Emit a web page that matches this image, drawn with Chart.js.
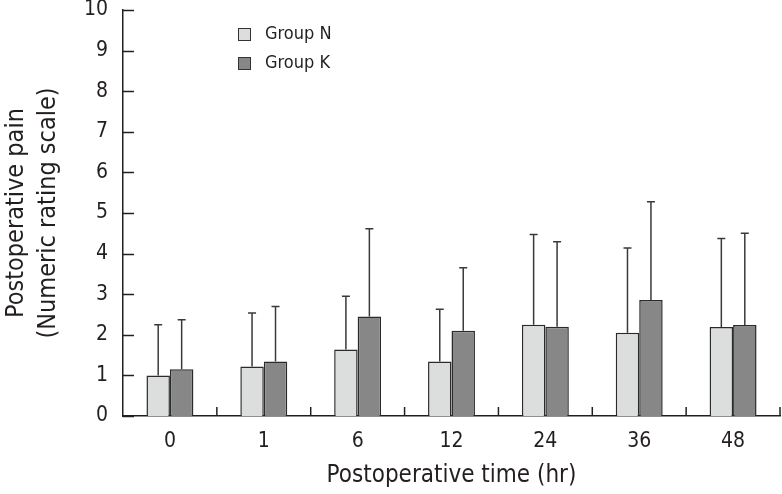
<!DOCTYPE html>
<html>
<head>
<meta charset="utf-8">
<script src="https://cdn.jsdelivr.net/npm/chart.js@4"></script>
<style>
  html, body { margin: 0; padding: 0; background: #fff; }
  #wrap { width: 782px; height: 494px; }
</style>
</head>
<body>
<div id="wrap"><canvas id="painChart"></canvas></div>
<script>
// data
const hours = ['0', '1', '6', '12', '24', '36', '48'];
const groupN = [1.0, 1.22, 1.64, 1.34, 2.25, 2.05, 2.19];
const groupNsd = [1.25, 1.32, 1.31, 1.29, 2.22, 2.09, 2.18];
const groupK = [1.15, 1.34, 2.45, 2.10, 2.20, 2.86, 2.24];
const groupKsd = [1.22, 1.36, 2.16, 1.55, 2.09, 2.42, 2.26];
const seriesNames = ['Group N', 'Group K'];
const yMax = 10;

const FONT = "'Liberation Sans Narrow', 'DejaVu Sans Condensed', 'Roboto Condensed', sans-serif";
const INK = '#231f20';

// error bars (upper only) + inward tick marks + legend
const decorations = {
  id: 'decorations',
  afterDatasetsDraw(chart) {
    const ctx = chart.ctx;
    const y = chart.scales.y;
    const sds = [groupNsd, groupKsd];
    ctx.save();
    ctx.strokeStyle = '#3a3a3a';
    ctx.lineWidth = 1.5;
    chart.data.datasets.forEach((ds, i) => {
      const meta = chart.getDatasetMeta(i);
      meta.data.forEach((bar, j) => {
        const top = y.getPixelForValue(ds.data[j] + sds[i][j]);
        ctx.beginPath();
        ctx.moveTo(bar.x, bar.y);
        ctx.lineTo(bar.x, top);
        ctx.moveTo(bar.x - 4, top);
        ctx.lineTo(bar.x + 4, top);
        ctx.stroke();
      });
    });
    ctx.restore();
  },
  afterDraw(chart) {
    const ctx = chart.ctx;
    const area = chart.chartArea;
    const y = chart.scales.y;
    ctx.save();
    ctx.strokeStyle = INK;
    ctx.lineWidth = 1.5;
    // y ticks pointing into the plot
    for (let v = 0; v <= yMax; v++) {
      const py = Math.round(y.getPixelForValue(v)) + 0.5;
      ctx.beginPath();
      ctx.moveTo(area.left, py);
      ctx.lineTo(area.left + 11, py);
      ctx.stroke();
    }
    // x separators between categories
    const step = (area.right - area.left) / hours.length;
    for (let i = 1; i <= hours.length; i++) {
      const px = area.left + i * step;
      ctx.beginPath();
      ctx.moveTo(px, area.bottom);
      ctx.lineTo(px, area.bottom - 9);
      ctx.stroke();
    }
    // legend
    const fills = chart.data.datasets.map(d => d.backgroundColor);
    ctx.font = '18px ' + FONT;
    ctx.textBaseline = 'middle';
    seriesNames.forEach((name, i) => {
      const ly = 28 + i * 29;
      ctx.fillStyle = fills[i];
      ctx.fillRect(238, ly, 13, 13);
      ctx.strokeStyle = '#333';
      ctx.lineWidth = 1;
      ctx.strokeRect(238.5, ly + 0.5, 12, 12);
      ctx.fillStyle = INK;
      ctx.fillText(name, 265, ly + 6);
    });
    ctx.restore();
  }
};

new Chart(document.getElementById('painChart'), {
  type: 'bar',
  data: {
    labels: hours,
    datasets: [
      { label: seriesNames[0], data: groupN, backgroundColor: '#dcdddd', borderColor: '#2b2b2b', borderWidth: 1.5 },
      { label: seriesNames[1], data: groupK, backgroundColor: '#878787', borderColor: '#2b2b2b', borderWidth: 1.5 }
    ]
  },
  options: {
    responsive: true,
    maintainAspectRatio: false,
    animation: false,
    layout: { padding: { top: 10, right: 2, left: 0, bottom: 0 } },
    datasets: { bar: { categoryPercentage: 0.5, barPercentage: 1.0 } },
    plugins: { legend: { display: false }, tooltip: { enabled: false } },
    scales: {
      x: {
        grid: { display: false, drawTicks: false },
        border: { display: true, color: INK, width: 1.5 },
        ticks: { color: INK, font: { family: FONT, size: 21 }, padding: 13 },
        title: {
          display: true, text: 'Postoperative time (hr)', color: INK,
          font: { family: FONT, size: 24 }, padding: { top: 2, bottom: 4 }
        },
        afterFit: s => { s.height = 78; s.paddingRight = 0; }
      },
      y: {
        min: 0, max: yMax,
        grid: { display: false, drawTicks: false },
        border: { display: true, color: INK, width: 1.5 },
        ticks: { stepSize: 1, color: INK, font: { family: FONT, size: 21 }, padding: 15 },
        title: {
          display: true, text: ['Postoperative pain', '(Numeric rating scale)'], color: INK,
          font: { family: FONT, size: 25, lineHeight: 1.3 }, padding: { top: 0, bottom: 0 }
        },
        afterFit: s => { s.width = 123; s.paddingTop = 0; s.paddingBottom = 0; }
      }
    }
  },
  plugins: [decorations]
});
</script>
</body>
</html>
